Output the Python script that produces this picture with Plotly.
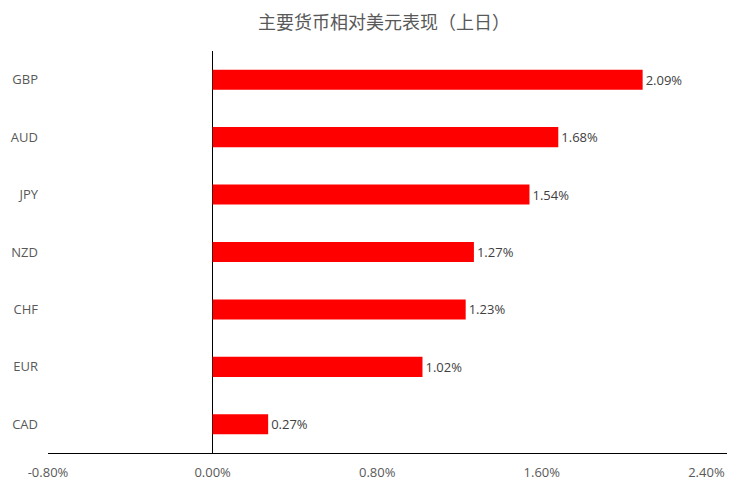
import plotly.graph_objects as go

# 主要货币相对美元表现（上日）
currencies = ["GBP", "AUD", "JPY", "NZD", "CHF", "EUR", "CAD"]
change_pct = [2.09, 1.68, 1.54, 1.27, 1.23, 1.02, 0.27]
tick_vals = [-0.8, 0.0, 0.8, 1.6, 2.4]
tick_text = ["-0.80%", "0.00%", "0.80%", "1.60%", "2.40%"]

fig = go.Figure()
fig.add_trace(go.Bar(
    x=change_pct,
    y=currencies,
    orientation="h",
    width=0.35,
    marker=dict(color="#ff0000", line=dict(width=0)),
    text=[f"{v:.2f}%" for v in change_pct],
    textposition="outside",
    textfont=dict(family="Open Sans, Noto Sans", size=13, color="#404040"),
    cliponaxis=False,
))

# page body adds 8px offset, so margins are shifted to compensate
fig.update_layout(
    width=752, height=491,
    margin=dict(l=40, r=33, t=43, b=46, autoexpand=False),
    paper_bgcolor="white",
    plot_bgcolor="white",
    showlegend=False,
    title=dict(
        text="主要货币相对美元表现（上日）",
        x=0.5, xanchor="center",
        y=0.971, yanchor="middle",
        font=dict(family="Noto Sans CJK SC", size=18, color="#595959"),
    ),
    xaxis=dict(
        range=[-0.8, 2.5],
        tickvals=tick_vals,
        ticktext=tick_text,
        showgrid=False,
        zeroline=True,
        zerolinecolor="black",
        zerolinewidth=1,
        showline=True,
        linecolor="black",
        linewidth=1,
        ticks="",
        automargin=False,
        ticklabelstandoff=7,
        tickfont=dict(family="Open Sans, Noto Sans", size=13, color="#595959"),
    ),
    yaxis=dict(
        categoryorder="array",
        categoryarray=currencies[::-1],
        showgrid=False,
        showline=False,
        ticks="",
        automargin=False,
        ticklabelstandoff=9,
        tickfont=dict(family="Open Sans, Noto Sans", size=13, color="#595959"),
    ),
)

fig.write_html("out.html")
